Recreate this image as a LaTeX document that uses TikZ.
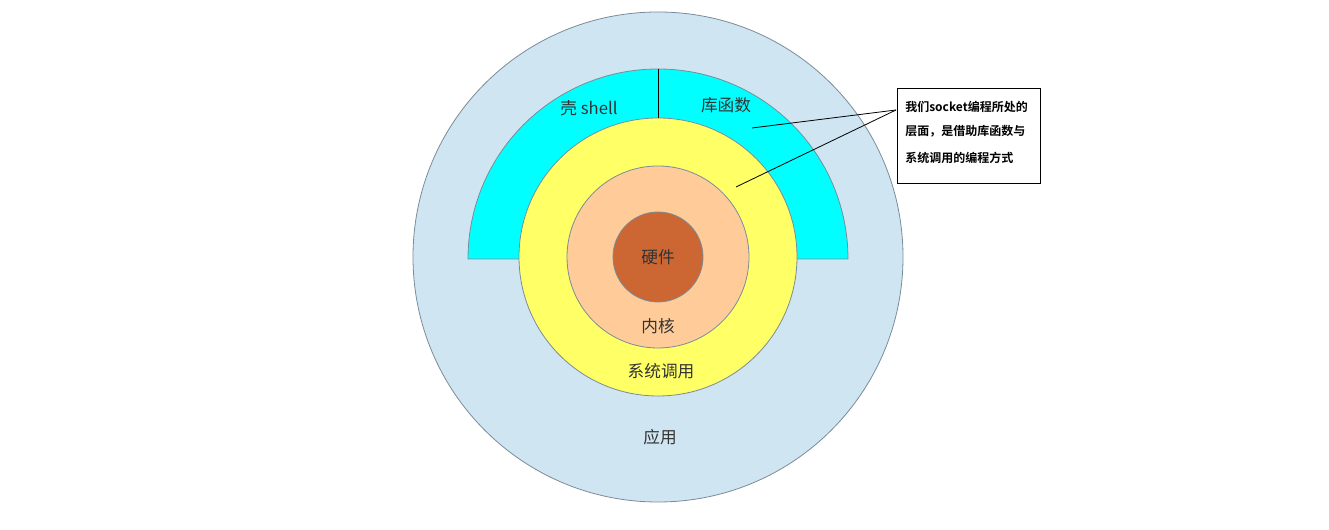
\documentclass[tikz,border=0pt]{standalone}
\usepackage{fontspec}
\newfontfamily\cjk{Noto Sans CJK SC}
\newfontfamily\cjkb{Noto Sans CJK SC Bold}
\definecolor{appblue}{HTML}{D0E5F2}
\definecolor{shellcyan}{HTML}{00FFFF}
\definecolor{sysyellow}{HTML}{FFFF66}
\definecolor{kernpeach}{HTML}{FFCC99}
\definecolor{hwbrown}{HTML}{CC6633}
\definecolor{ringedge}{HTML}{7A8C99}
\definecolor{labelgray}{HTML}{333333}
\tikzset{
  ring/.style={draw=ringedge, line width=0.6pt},
  lbl/.style={font=\cjk\fontsize{12.5}{14}\selectfont, text=labelgray, inner sep=0pt},
  note/.style={font=\cjkb\fontsize{9}{11}\selectfont, text=black, inner sep=0pt, anchor=west},
  pointer/.style={draw=black, line width=0.6pt},
}
\begin{document}
\begin{tikzpicture}[x=0.75pt,y=0.75pt]
\useasboundingbox (0,0) rectangle (1329,530);
\fill[white] (0,0) rectangle (1329,530);
% outer application circle
\filldraw[ring, fill=appblue] (658,273) circle[radius=245*0.75pt];
% shell / library half annulus
\filldraw[ring, fill=shellcyan] (468,271) arc[start angle=180, end angle=0, radius=190*0.75pt] -- cycle;
% system call ring
\filldraw[ring, fill=sysyellow] (658,273) circle[radius=139*0.75pt];
% kernel
\filldraw[ring, fill=kernpeach] (658,273) circle[radius=91*0.75pt];
% hardware
\filldraw[ring, fill=hwbrown] (658,273) circle[radius=45*0.75pt];
% divider
\coordinate (divtop) at (658,461);
\coordinate (divbot) at (658,412);
\draw[black, line width=0.6pt] (divtop) -- (divbot);
% labels
\node[lbl] (shell) at (589,422) {壳 shell};
\node[lbl] (lib) at (726,425) {库函数};
\node[lbl] (hw) at (658,273) {硬件};
\node[lbl] (kern) at (658,204) {内核};
\node[lbl] (sys) at (661,159) {系统调用};
\node[lbl] (app) at (660,93) {应用};
% annotation box
\node[draw=black, line width=0.8pt, fill=white, minimum width=143*0.75pt, minimum height=95*0.75pt, inner sep=0pt, anchor=north west] (box) at (897,442) {};
\node[note] (n1) at (905,423) {我们socket编程所处的};
\node[note] (n2) at (905,399) {层面，是借助库函数与};
\node[note] (n3) at (905,372) {系统调用的编程方式};
% pointers
\coordinate (tip) at (896,420);
\coordinate (p1) at (752,402);
\coordinate (p2) at (736,343);
\draw[pointer] (tip) -- (p1);
\draw[pointer] (tip) -- (p2);
\end{tikzpicture}
\end{document}
